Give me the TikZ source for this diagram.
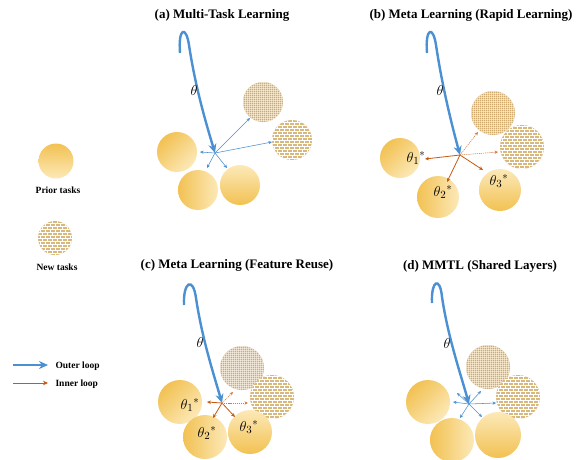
\documentclass[tikz,border=0pt]{standalone}
\usepackage{fontspec}
\setmainfont{Liberation Serif}
\usetikzlibrary{arrows.meta}
\definecolor{outerblue}{RGB}{74,144,210}
\definecolor{innerorange}{RGB}{197,90,17}
\definecolor{pdark}{RGB}{242,193,82}
\definecolor{plight}{RGB}{252,233,184}
\definecolor{tanc}{RGB}{216,184,124}
\definecolor{tand}{RGB}{208,172,112}
\begin{document}
\begin{tikzpicture}[x=1pt,y=-1pt,
  title/.style={font=\fontsize{13}{15}\selectfont\bfseries},
  legtext/.style={font=\fontsize{9.5}{11}\selectfont\bfseries},
  thetalbl/.style={font=\fontsize{15}{17}\selectfont},
  thetasub/.style={font=\fontsize{15}{17}\selectfont},
  prior/.style={circle, inner sep=0pt, top color=pdark, bottom color=plight, shading angle=#1},
  prior/.default=0,
  newdots/.style={circle, inner sep=0pt, fill=tand, path picture={
     \foreach \k in {-26,-24,...,26}{
       \draw[white, opacity=0.5, line width=1pt] (path picture bounding box.center) ++(-27,\k) -- ++(54,0);
       \draw[white, opacity=0.5, line width=1pt] (path picture bounding box.center) ++(\k,-27) -- ++(0,54);}}},
  newbricks/.style={circle, inner sep=0pt, fill=tanc, path picture={
     \foreach \k in {-27,-24,...,27}{
       \draw[white, line width=0.6pt] (path picture bounding box.center) ++(-27,\k) -- ++(54,0);}
     \foreach \k in {-27,-21,...,27}{\foreach \j in {-25,-20,...,25}{
       \draw[white, line width=0.6pt] (path picture bounding box.center) ++(\j,\k) -- ++(0,3);}}
     \foreach \k in {-24,-18,...,24}{\foreach \j in {-27.5,-22.5,...,27.5}{
       \draw[white, line width=0.6pt] (path picture bounding box.center) ++(\j,\k) -- ++(0,3);}}}},
  outer/.style={outerblue, line width=2.4pt, -{Stealth[length=9pt,width=8pt]}},
  smallblue/.style={outerblue, line width=0.55pt, -{Stealth[length=3.5pt,width=3.2pt]}},
  smallorange/.style={innerorange, line width=0.8pt, -{Stealth[length=4pt,width=3.6pt]}},
  dotorange/.style={innerorange!80, line width=0.55pt, dash pattern=on 1.2pt off 0.9pt, -{Stealth[length=3.5pt,width=3.2pt]}},
  inner/.style={innerorange, line width=0.8pt, -{Stealth[length=5pt,width=4.5pt]}}
]
\clip (0,0) rectangle (587,459);
\fill[white] (0,0) rectangle (587,459);

% titles
\node[title] (ta) at (222,15) {(a) Multi-Task Learning};
\node[title] (tb) at (471,15) {(b) Meta Learning (Rapid Learning)};
\node[title] (tc) at (237,265) {(c) Meta Learning (Feature Reuse)};
\node[title] (td) at (480,266) {(d) MMTL (Shared Layers)};

% legend
\node[prior=0, minimum size=35pt] (lp) at (56,161) {};
\node[legtext] (lpt) at (58,190) {Prior tasks};
\node[newbricks, minimum size=34pt] (ln) at (55,238) {};
\node[legtext] (lnt) at (57,267) {New tasks};
\coordinate (lo1) at (13,365); \coordinate (lo2) at (48,365);
\draw[outer] (lo1) -- (lo2);
\node[legtext, anchor=west] (lot) at (52,366) {Outer loop};
\coordinate (li1) at (13,383); \coordinate (li2) at (48,383);
\draw[inner] (li1) -- (li2);
\node[legtext, anchor=west] (lit) at (52,384) {Inner loop};

% ---------- panel (a)
\node[newdots, minimum size=40pt] (an1) at (263,102) {};
\node[newbricks, minimum size=40pt] (an2) at (292,140) {};
\node[prior=45, minimum size=40pt] (ap1) at (177,152) {};
\node[prior=90, minimum size=40pt] (ap2) at (198,190) {};
\node[prior=180, minimum size=40pt] (ap3) at (240,185) {};
\coordinate (ha) at (215,153);
\coordinate (sa) at (180,53);
\draw[outer] (sa) .. controls (178,28) and (186,25) .. (189,45) .. controls (195,85) and (205,120) .. (ha);
\node[thetalbl] (tha) at (194,90) {$\theta$};
\draw[smallblue] (ha) -- (200,152) coordinate (a1);
\draw[smallblue] (ha) -- (207,168) coordinate (a2);
\draw[smallblue] (ha) -- (227,168) coordinate (a3);
\draw[smallblue] (ha) -- (250,118) coordinate (a4);
\draw[smallblue] (ha) -- (272,142) coordinate (a5);

% ---------- panel (b)
\node[newdots, minimum size=44pt] (bn1) at (493,113) {};
\node[newbricks, minimum size=44pt] (bn2) at (522,147) {};
\node[prior=45, minimum size=40pt] (bp1) at (400,158) {};
\node[prior=90, minimum size=42pt] (bp2) at (438,197) {};
\node[prior=180, minimum size=42pt] (bp3) at (500,190) {};
\coordinate (hb) at (460,155);
\coordinate (sb) at (427,53);
\draw[outer] (sb) .. controls (425,28) and (433,25) .. (436,45) .. controls (442,85) and (451,122) .. (hb);
\node[thetalbl] (thb) at (440,90) {$\theta$};
\node[thetasub] (b1) at (416,158) {$\theta_1{}^{*}$};
\node[thetasub] (b2) at (443,192) {$\theta_2{}^{*}$};
\node[thetasub] (b3) at (499,181) {$\theta_3{}^{*}$};
\draw[smallorange] (hb) -- (425,159) coordinate (bb1);
\draw[smallorange] (hb) -- (447,182) coordinate (bb2);
\draw[smallorange] (hb) -- (483,170) coordinate (bb3);
\draw[dotorange] (hb) -- (478,132) coordinate (bb4);
\draw[dotorange] (hb) -- (498,152) coordinate (bb5);

% ---------- panel (c)
\node[newdots, minimum size=44pt] (cn1) at (242,368) {};
\node[newbricks, minimum size=44pt] (cn2) at (272,397) {};
\node[prior=45, minimum size=44pt] (cp1) at (180,402) {};
\node[prior=90, minimum size=44pt] (cp2) at (205,437) {};
\node[prior=180, minimum size=44pt] (cp3) at (250,432) {};
\coordinate (hc) at (222,403);
\coordinate (sc) at (184,305);
\draw[outer] (sc) .. controls (183,282) and (193,276) .. (196,298) .. controls (202,338) and (213,372) .. (hc);
\node[thetalbl] (thc) at (200,342) {$\theta$};
\node[thetasub] (c1) at (190,405) {$\theta_1{}^{*}$};
\node[thetasub] (c2) at (207,433) {$\theta_2{}^{*}$};
\node[thetasub] (c3) at (249,427) {$\theta_3{}^{*}$};
\draw[smallorange] (hc) -- (207,402) coordinate (cc1);
\draw[smallorange] (hc) -- (213,418) coordinate (cc2);
\draw[smallorange] (hc) -- (235,417) coordinate (cc3);
\draw[dotorange] (hc) -- (233,392) coordinate (cc4);
\draw[dotorange] (hc) -- (248,403) coordinate (cc5);

% ---------- panel (d)
\node[newdots, minimum size=44pt] (dn1) at (488,367) {};
\node[newbricks, minimum size=44pt] (dn2) at (518,397) {};
\node[prior=45, minimum size=44pt] (dp1) at (428,402) {};
\node[prior=90, minimum size=44pt] (dp2) at (452,440) {};
\node[prior=180, minimum size=46pt] (dp3) at (498,435) {};
\coordinate (hd) at (469,404);
\coordinate (sd) at (432,303);
\draw[outer] (sd) .. controls (431,280) and (440,276) .. (442,297) .. controls (448,337) and (460,372) .. (hd);
\node[thetalbl] (thd) at (447,343) {$\theta$};
\draw[smallblue] (hd) -- (457,393) coordinate (dd1);
\draw[smallblue] (hd) -- (481,391) coordinate (dd2);
\draw[smallblue] (hd) -- (453,402) coordinate (dd3);
\draw[smallblue] (hd) -- (496,403) coordinate (dd4);
\draw[smallblue] (hd) -- (460,418) coordinate (dd5);
\draw[smallblue] (hd) -- (482,417) coordinate (dd6);
\end{tikzpicture}
\end{document}
